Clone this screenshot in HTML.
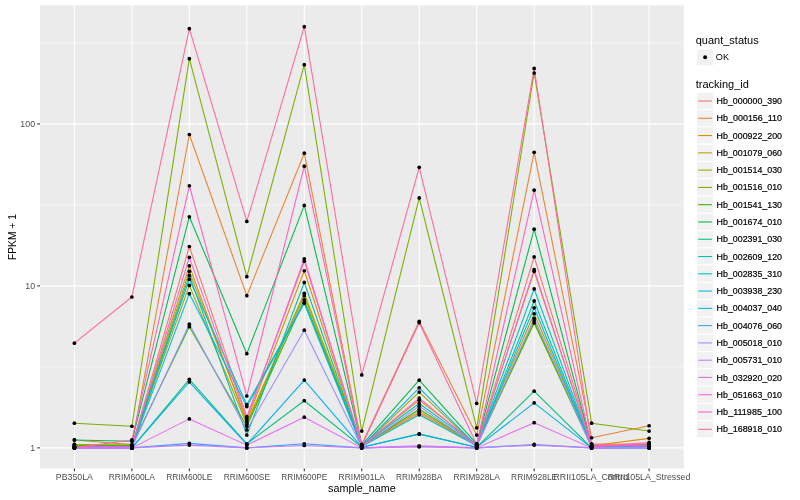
<!DOCTYPE html>
<html><head><meta charset="utf-8"><title>plot</title>
<style>html,body{margin:0;padding:0;background:#fff}svg{display:block}text{font-family:"Liberation Sans",sans-serif}</style></head><body>
<svg width="800" height="500" viewBox="0 0 800 500">
<rect width="800" height="500" fill="#fff"/>
<rect x="40.0" y="5.3" width="643.76" height="463.30" fill="#EBEBEB"/>
<line x1="40.0" x2="683.76" y1="366.88" y2="366.88" stroke="#fff" stroke-width="0.53"/>
<line x1="40.0" x2="683.76" y1="204.88" y2="204.88" stroke="#fff" stroke-width="0.53"/>
<line x1="40.0" x2="683.76" y1="42.88" y2="42.88" stroke="#fff" stroke-width="0.53"/>
<line x1="40.0" x2="683.76" y1="447.88" y2="447.88" stroke="#fff" stroke-width="1.07"/>
<line x1="40.0" x2="683.76" y1="285.88" y2="285.88" stroke="#fff" stroke-width="1.07"/>
<line x1="40.0" x2="683.76" y1="123.88" y2="123.88" stroke="#fff" stroke-width="1.07"/>
<line x1="74.40" x2="74.40" y1="5.3" y2="468.6" stroke="#fff" stroke-width="1.07"/>
<line x1="131.87" x2="131.87" y1="5.3" y2="468.6" stroke="#fff" stroke-width="1.07"/>
<line x1="189.34" x2="189.34" y1="5.3" y2="468.6" stroke="#fff" stroke-width="1.07"/>
<line x1="246.81" x2="246.81" y1="5.3" y2="468.6" stroke="#fff" stroke-width="1.07"/>
<line x1="304.28" x2="304.28" y1="5.3" y2="468.6" stroke="#fff" stroke-width="1.07"/>
<line x1="361.75" x2="361.75" y1="5.3" y2="468.6" stroke="#fff" stroke-width="1.07"/>
<line x1="419.22" x2="419.22" y1="5.3" y2="468.6" stroke="#fff" stroke-width="1.07"/>
<line x1="476.69" x2="476.69" y1="5.3" y2="468.6" stroke="#fff" stroke-width="1.07"/>
<line x1="534.16" x2="534.16" y1="5.3" y2="468.6" stroke="#fff" stroke-width="1.07"/>
<line x1="591.63" x2="591.63" y1="5.3" y2="468.6" stroke="#fff" stroke-width="1.07"/>
<line x1="649.10" x2="649.10" y1="5.3" y2="468.6" stroke="#fff" stroke-width="1.07"/>
<g fill="none" stroke-width="1.07" stroke-linejoin="round">
<polyline points="74.40,446.49 131.87,446.49 189.34,246.51 246.81,416.59 304.28,261.21 361.75,445.80 419.22,413.08 476.69,445.12 534.16,256.89 591.63,443.78 649.10,444.45" stroke="#F8766D"/>
<polyline points="74.40,439.91 131.87,444.65 189.34,134.49 246.81,295.68 304.28,153.22 361.75,444.45 419.22,321.24 476.69,435.05 534.16,152.37 591.63,437.74 649.10,425.73" stroke="#EA8331"/>
<polyline points="74.40,444.45 131.87,445.80 189.34,271.32 246.81,420.77 304.28,270.75 361.75,445.80 419.22,400.18 476.69,444.45 534.16,271.32 591.63,445.80 649.10,438.35" stroke="#D89000"/>
<polyline points="74.40,445.12 131.87,445.12 189.34,265.82 246.81,422.72 304.28,293.29 361.75,445.12 419.22,411.38 476.69,445.12 534.16,313.74 591.63,446.49 649.10,445.80" stroke="#C09B00"/>
<polyline points="74.40,444.45 131.87,445.80 189.34,285.39 246.81,424.21 304.28,295.68 361.75,446.49 419.22,392.09 476.69,445.80 534.16,320.66 591.63,446.49 649.10,445.12" stroke="#A3A500"/>
<polyline points="74.40,423.21 131.87,426.25 189.34,58.69 246.81,276.66 304.28,64.67 361.75,431.06 419.22,197.94 476.69,427.82 534.16,73.03 591.63,423.21 649.10,431.06" stroke="#7CAE00"/>
<polyline points="74.40,445.80 131.87,445.12 189.34,326.67 246.81,426.25 304.28,299.84 361.75,445.80 419.22,409.32 476.69,445.12 534.16,323.00 591.63,446.49 649.10,444.45" stroke="#39B600"/>
<polyline points="74.40,439.91 131.87,441.17 189.34,216.79 246.81,353.68 304.28,205.38 361.75,445.12 419.22,380.22 476.69,443.78 534.16,229.14 591.63,445.80 649.10,445.12" stroke="#00BB4E"/>
<polyline points="74.40,447.88 131.87,447.88 189.34,379.31 246.81,443.78 304.28,400.71 361.75,447.18 419.22,433.89 476.69,447.18 534.16,391.14 591.63,447.88 649.10,447.18" stroke="#00BF7D"/>
<polyline points="74.40,446.49 131.87,446.49 189.34,275.44 246.81,435.05 304.28,282.45 361.75,446.49 419.22,414.81 476.69,445.80 534.16,300.97 591.63,446.49 649.10,446.49" stroke="#00C1A3"/>
<polyline points="74.40,447.18 131.87,446.49 189.34,279.17 246.81,404.60 304.28,302.46 361.75,445.80 419.22,403.47 476.69,445.12 534.16,288.97 591.63,446.49 649.10,445.80" stroke="#00BFC4"/>
<polyline points="74.40,447.18 131.87,447.18 189.34,293.68 246.81,406.53 304.28,303.36 361.75,446.49 419.22,387.77 476.69,445.80 534.16,307.73 591.63,447.18 649.10,446.49" stroke="#00BAE0"/>
<polyline points="74.40,447.88 131.87,447.88 189.34,382.02 246.81,444.45 304.28,380.12 361.75,447.18 419.22,434.18 476.69,447.18 534.16,402.94 591.63,447.88 649.10,447.88" stroke="#00B0F6"/>
<polyline points="74.40,447.88 131.87,447.88 189.34,443.38 246.81,447.88 304.28,443.78 361.75,447.88 419.22,446.49 476.69,447.88 534.16,444.45 591.63,447.88 649.10,447.88" stroke="#35A2FF"/>
<polyline points="74.40,447.18 131.87,447.18 189.34,324.20 246.81,429.96 304.28,330.15 361.75,447.18 419.22,406.14 476.69,446.49 534.16,318.39 591.63,447.18 649.10,447.18" stroke="#9590FF"/>
<polyline points="74.40,447.88 131.87,447.88 189.34,445.12 246.81,447.88 304.28,445.46 361.75,447.88 419.22,446.83 476.69,447.88 534.16,445.12 591.63,447.88 649.10,447.88" stroke="#C77CFF"/>
<polyline points="74.40,447.88 131.87,447.88 189.34,418.89 246.81,445.12 304.28,417.18 361.75,447.88 419.22,445.80 476.69,447.88 534.16,422.72 591.63,447.88 649.10,447.18" stroke="#E76BF3"/>
<polyline points="74.40,447.18 131.87,446.49 189.34,257.35 246.81,418.42 304.28,258.77 361.75,446.49 419.22,398.07 476.69,445.80 534.16,269.62 591.63,446.49 649.10,443.78" stroke="#FA62DB"/>
<polyline points="74.40,447.88 131.87,439.91 189.34,185.76 246.81,396.02 304.28,166.20 361.75,445.80 419.22,322.65 476.69,444.45 534.16,190.13 591.63,446.49 649.10,442.47" stroke="#FF62BC"/>
<polyline points="74.40,343.16 131.87,296.98 189.34,28.67 246.81,221.41 304.28,26.70 361.75,374.94 419.22,167.36 476.69,403.47 534.16,68.41 591.63,444.45 649.10,445.80" stroke="#FF6A98"/>
</g>
<g fill="#000">
<circle cx="74.40" cy="446.49" r="1.85"/>
<circle cx="131.87" cy="446.49" r="1.85"/>
<circle cx="189.34" cy="246.51" r="1.85"/>
<circle cx="246.81" cy="416.59" r="1.85"/>
<circle cx="304.28" cy="261.21" r="1.85"/>
<circle cx="361.75" cy="445.80" r="1.85"/>
<circle cx="419.22" cy="413.08" r="1.85"/>
<circle cx="476.69" cy="445.12" r="1.85"/>
<circle cx="534.16" cy="256.89" r="1.85"/>
<circle cx="591.63" cy="443.78" r="1.85"/>
<circle cx="649.10" cy="444.45" r="1.85"/>
<circle cx="74.40" cy="439.91" r="1.85"/>
<circle cx="131.87" cy="444.65" r="1.85"/>
<circle cx="189.34" cy="134.49" r="1.85"/>
<circle cx="246.81" cy="295.68" r="1.85"/>
<circle cx="304.28" cy="153.22" r="1.85"/>
<circle cx="361.75" cy="444.45" r="1.85"/>
<circle cx="419.22" cy="321.24" r="1.85"/>
<circle cx="476.69" cy="435.05" r="1.85"/>
<circle cx="534.16" cy="152.37" r="1.85"/>
<circle cx="591.63" cy="437.74" r="1.85"/>
<circle cx="649.10" cy="425.73" r="1.85"/>
<circle cx="74.40" cy="444.45" r="1.85"/>
<circle cx="131.87" cy="445.80" r="1.85"/>
<circle cx="189.34" cy="271.32" r="1.85"/>
<circle cx="246.81" cy="420.77" r="1.85"/>
<circle cx="304.28" cy="270.75" r="1.85"/>
<circle cx="361.75" cy="445.80" r="1.85"/>
<circle cx="419.22" cy="400.18" r="1.85"/>
<circle cx="476.69" cy="444.45" r="1.85"/>
<circle cx="534.16" cy="271.32" r="1.85"/>
<circle cx="591.63" cy="445.80" r="1.85"/>
<circle cx="649.10" cy="438.35" r="1.85"/>
<circle cx="74.40" cy="445.12" r="1.85"/>
<circle cx="131.87" cy="445.12" r="1.85"/>
<circle cx="189.34" cy="265.82" r="1.85"/>
<circle cx="246.81" cy="422.72" r="1.85"/>
<circle cx="304.28" cy="293.29" r="1.85"/>
<circle cx="361.75" cy="445.12" r="1.85"/>
<circle cx="419.22" cy="411.38" r="1.85"/>
<circle cx="476.69" cy="445.12" r="1.85"/>
<circle cx="534.16" cy="313.74" r="1.85"/>
<circle cx="591.63" cy="446.49" r="1.85"/>
<circle cx="649.10" cy="445.80" r="1.85"/>
<circle cx="74.40" cy="444.45" r="1.85"/>
<circle cx="131.87" cy="445.80" r="1.85"/>
<circle cx="189.34" cy="285.39" r="1.85"/>
<circle cx="246.81" cy="424.21" r="1.85"/>
<circle cx="304.28" cy="295.68" r="1.85"/>
<circle cx="361.75" cy="446.49" r="1.85"/>
<circle cx="419.22" cy="392.09" r="1.85"/>
<circle cx="476.69" cy="445.80" r="1.85"/>
<circle cx="534.16" cy="320.66" r="1.85"/>
<circle cx="591.63" cy="446.49" r="1.85"/>
<circle cx="649.10" cy="445.12" r="1.85"/>
<circle cx="74.40" cy="423.21" r="1.85"/>
<circle cx="131.87" cy="426.25" r="1.85"/>
<circle cx="189.34" cy="58.69" r="1.85"/>
<circle cx="246.81" cy="276.66" r="1.85"/>
<circle cx="304.28" cy="64.67" r="1.85"/>
<circle cx="361.75" cy="431.06" r="1.85"/>
<circle cx="419.22" cy="197.94" r="1.85"/>
<circle cx="476.69" cy="427.82" r="1.85"/>
<circle cx="534.16" cy="73.03" r="1.85"/>
<circle cx="591.63" cy="423.21" r="1.85"/>
<circle cx="649.10" cy="431.06" r="1.85"/>
<circle cx="74.40" cy="445.80" r="1.85"/>
<circle cx="131.87" cy="445.12" r="1.85"/>
<circle cx="189.34" cy="326.67" r="1.85"/>
<circle cx="246.81" cy="426.25" r="1.85"/>
<circle cx="304.28" cy="299.84" r="1.85"/>
<circle cx="361.75" cy="445.80" r="1.85"/>
<circle cx="419.22" cy="409.32" r="1.85"/>
<circle cx="476.69" cy="445.12" r="1.85"/>
<circle cx="534.16" cy="323.00" r="1.85"/>
<circle cx="591.63" cy="446.49" r="1.85"/>
<circle cx="649.10" cy="444.45" r="1.85"/>
<circle cx="74.40" cy="439.91" r="1.85"/>
<circle cx="131.87" cy="441.17" r="1.85"/>
<circle cx="189.34" cy="216.79" r="1.85"/>
<circle cx="246.81" cy="353.68" r="1.85"/>
<circle cx="304.28" cy="205.38" r="1.85"/>
<circle cx="361.75" cy="445.12" r="1.85"/>
<circle cx="419.22" cy="380.22" r="1.85"/>
<circle cx="476.69" cy="443.78" r="1.85"/>
<circle cx="534.16" cy="229.14" r="1.85"/>
<circle cx="591.63" cy="445.80" r="1.85"/>
<circle cx="649.10" cy="445.12" r="1.85"/>
<circle cx="74.40" cy="447.88" r="1.85"/>
<circle cx="131.87" cy="447.88" r="1.85"/>
<circle cx="189.34" cy="379.31" r="1.85"/>
<circle cx="246.81" cy="443.78" r="1.85"/>
<circle cx="304.28" cy="400.71" r="1.85"/>
<circle cx="361.75" cy="447.18" r="1.85"/>
<circle cx="419.22" cy="433.89" r="1.85"/>
<circle cx="476.69" cy="447.18" r="1.85"/>
<circle cx="534.16" cy="391.14" r="1.85"/>
<circle cx="591.63" cy="447.88" r="1.85"/>
<circle cx="649.10" cy="447.18" r="1.85"/>
<circle cx="74.40" cy="446.49" r="1.85"/>
<circle cx="131.87" cy="446.49" r="1.85"/>
<circle cx="189.34" cy="275.44" r="1.85"/>
<circle cx="246.81" cy="435.05" r="1.85"/>
<circle cx="304.28" cy="282.45" r="1.85"/>
<circle cx="361.75" cy="446.49" r="1.85"/>
<circle cx="419.22" cy="414.81" r="1.85"/>
<circle cx="476.69" cy="445.80" r="1.85"/>
<circle cx="534.16" cy="300.97" r="1.85"/>
<circle cx="591.63" cy="446.49" r="1.85"/>
<circle cx="649.10" cy="446.49" r="1.85"/>
<circle cx="74.40" cy="447.18" r="1.85"/>
<circle cx="131.87" cy="446.49" r="1.85"/>
<circle cx="189.34" cy="279.17" r="1.85"/>
<circle cx="246.81" cy="404.60" r="1.85"/>
<circle cx="304.28" cy="302.46" r="1.85"/>
<circle cx="361.75" cy="445.80" r="1.85"/>
<circle cx="419.22" cy="403.47" r="1.85"/>
<circle cx="476.69" cy="445.12" r="1.85"/>
<circle cx="534.16" cy="288.97" r="1.85"/>
<circle cx="591.63" cy="446.49" r="1.85"/>
<circle cx="649.10" cy="445.80" r="1.85"/>
<circle cx="74.40" cy="447.18" r="1.85"/>
<circle cx="131.87" cy="447.18" r="1.85"/>
<circle cx="189.34" cy="293.68" r="1.85"/>
<circle cx="246.81" cy="406.53" r="1.85"/>
<circle cx="304.28" cy="303.36" r="1.85"/>
<circle cx="361.75" cy="446.49" r="1.85"/>
<circle cx="419.22" cy="387.77" r="1.85"/>
<circle cx="476.69" cy="445.80" r="1.85"/>
<circle cx="534.16" cy="307.73" r="1.85"/>
<circle cx="591.63" cy="447.18" r="1.85"/>
<circle cx="649.10" cy="446.49" r="1.85"/>
<circle cx="74.40" cy="447.88" r="1.85"/>
<circle cx="131.87" cy="447.88" r="1.85"/>
<circle cx="189.34" cy="382.02" r="1.85"/>
<circle cx="246.81" cy="444.45" r="1.85"/>
<circle cx="304.28" cy="380.12" r="1.85"/>
<circle cx="361.75" cy="447.18" r="1.85"/>
<circle cx="419.22" cy="434.18" r="1.85"/>
<circle cx="476.69" cy="447.18" r="1.85"/>
<circle cx="534.16" cy="402.94" r="1.85"/>
<circle cx="591.63" cy="447.88" r="1.85"/>
<circle cx="649.10" cy="447.88" r="1.85"/>
<circle cx="74.40" cy="447.88" r="1.85"/>
<circle cx="131.87" cy="447.88" r="1.85"/>
<circle cx="189.34" cy="443.38" r="1.85"/>
<circle cx="246.81" cy="447.88" r="1.85"/>
<circle cx="304.28" cy="443.78" r="1.85"/>
<circle cx="361.75" cy="447.88" r="1.85"/>
<circle cx="419.22" cy="446.49" r="1.85"/>
<circle cx="476.69" cy="447.88" r="1.85"/>
<circle cx="534.16" cy="444.45" r="1.85"/>
<circle cx="591.63" cy="447.88" r="1.85"/>
<circle cx="649.10" cy="447.88" r="1.85"/>
<circle cx="74.40" cy="447.18" r="1.85"/>
<circle cx="131.87" cy="447.18" r="1.85"/>
<circle cx="189.34" cy="324.20" r="1.85"/>
<circle cx="246.81" cy="429.96" r="1.85"/>
<circle cx="304.28" cy="330.15" r="1.85"/>
<circle cx="361.75" cy="447.18" r="1.85"/>
<circle cx="419.22" cy="406.14" r="1.85"/>
<circle cx="476.69" cy="446.49" r="1.85"/>
<circle cx="534.16" cy="318.39" r="1.85"/>
<circle cx="591.63" cy="447.18" r="1.85"/>
<circle cx="649.10" cy="447.18" r="1.85"/>
<circle cx="74.40" cy="447.88" r="1.85"/>
<circle cx="131.87" cy="447.88" r="1.85"/>
<circle cx="189.34" cy="445.12" r="1.85"/>
<circle cx="246.81" cy="447.88" r="1.85"/>
<circle cx="304.28" cy="445.46" r="1.85"/>
<circle cx="361.75" cy="447.88" r="1.85"/>
<circle cx="419.22" cy="446.83" r="1.85"/>
<circle cx="476.69" cy="447.88" r="1.85"/>
<circle cx="534.16" cy="445.12" r="1.85"/>
<circle cx="591.63" cy="447.88" r="1.85"/>
<circle cx="649.10" cy="447.88" r="1.85"/>
<circle cx="74.40" cy="447.88" r="1.85"/>
<circle cx="131.87" cy="447.88" r="1.85"/>
<circle cx="189.34" cy="418.89" r="1.85"/>
<circle cx="246.81" cy="445.12" r="1.85"/>
<circle cx="304.28" cy="417.18" r="1.85"/>
<circle cx="361.75" cy="447.88" r="1.85"/>
<circle cx="419.22" cy="445.80" r="1.85"/>
<circle cx="476.69" cy="447.88" r="1.85"/>
<circle cx="534.16" cy="422.72" r="1.85"/>
<circle cx="591.63" cy="447.88" r="1.85"/>
<circle cx="649.10" cy="447.18" r="1.85"/>
<circle cx="74.40" cy="447.18" r="1.85"/>
<circle cx="131.87" cy="446.49" r="1.85"/>
<circle cx="189.34" cy="257.35" r="1.85"/>
<circle cx="246.81" cy="418.42" r="1.85"/>
<circle cx="304.28" cy="258.77" r="1.85"/>
<circle cx="361.75" cy="446.49" r="1.85"/>
<circle cx="419.22" cy="398.07" r="1.85"/>
<circle cx="476.69" cy="445.80" r="1.85"/>
<circle cx="534.16" cy="269.62" r="1.85"/>
<circle cx="591.63" cy="446.49" r="1.85"/>
<circle cx="649.10" cy="443.78" r="1.85"/>
<circle cx="74.40" cy="447.88" r="1.85"/>
<circle cx="131.87" cy="439.91" r="1.85"/>
<circle cx="189.34" cy="185.76" r="1.85"/>
<circle cx="246.81" cy="396.02" r="1.85"/>
<circle cx="304.28" cy="166.20" r="1.85"/>
<circle cx="361.75" cy="445.80" r="1.85"/>
<circle cx="419.22" cy="322.65" r="1.85"/>
<circle cx="476.69" cy="444.45" r="1.85"/>
<circle cx="534.16" cy="190.13" r="1.85"/>
<circle cx="591.63" cy="446.49" r="1.85"/>
<circle cx="649.10" cy="442.47" r="1.85"/>
<circle cx="74.40" cy="343.16" r="1.85"/>
<circle cx="131.87" cy="296.98" r="1.85"/>
<circle cx="189.34" cy="28.67" r="1.85"/>
<circle cx="246.81" cy="221.41" r="1.85"/>
<circle cx="304.28" cy="26.70" r="1.85"/>
<circle cx="361.75" cy="374.94" r="1.85"/>
<circle cx="419.22" cy="167.36" r="1.85"/>
<circle cx="476.69" cy="403.47" r="1.85"/>
<circle cx="534.16" cy="68.41" r="1.85"/>
<circle cx="591.63" cy="444.45" r="1.85"/>
<circle cx="649.10" cy="445.80" r="1.85"/>
</g>
<g stroke="#333" stroke-width="1.07">
<line x1="37.25" x2="40.0" y1="447.88" y2="447.88"/>
<line x1="37.25" x2="40.0" y1="285.88" y2="285.88"/>
<line x1="37.25" x2="40.0" y1="123.88" y2="123.88"/>
<line x1="74.40" x2="74.40" y1="468.6" y2="471.35"/>
<line x1="131.87" x2="131.87" y1="468.6" y2="471.35"/>
<line x1="189.34" x2="189.34" y1="468.6" y2="471.35"/>
<line x1="246.81" x2="246.81" y1="468.6" y2="471.35"/>
<line x1="304.28" x2="304.28" y1="468.6" y2="471.35"/>
<line x1="361.75" x2="361.75" y1="468.6" y2="471.35"/>
<line x1="419.22" x2="419.22" y1="468.6" y2="471.35"/>
<line x1="476.69" x2="476.69" y1="468.6" y2="471.35"/>
<line x1="534.16" x2="534.16" y1="468.6" y2="471.35"/>
<line x1="591.63" x2="591.63" y1="468.6" y2="471.35"/>
<line x1="649.10" x2="649.10" y1="468.6" y2="471.35"/>
</g>
<g font-size="8.8" fill="#4D4D4D">
<text x="35.05" y="451.03" text-anchor="end">1</text>
<text x="35.05" y="289.03" text-anchor="end">10</text>
<text x="35.05" y="127.03" text-anchor="end">100</text>
<text x="74.40" y="480.2" text-anchor="middle">PB350LA</text>
<text x="131.87" y="480.2" text-anchor="middle" textLength="46.3" lengthAdjust="spacingAndGlyphs">RRIM600LA</text>
<text x="189.34" y="480.2" text-anchor="middle" textLength="46.3" lengthAdjust="spacingAndGlyphs">RRIM600LE</text>
<text x="246.81" y="480.2" text-anchor="middle" textLength="46.3" lengthAdjust="spacingAndGlyphs">RRIM600SE</text>
<text x="304.28" y="480.2" text-anchor="middle" textLength="46.3" lengthAdjust="spacingAndGlyphs">RRIM600PE</text>
<text x="361.75" y="480.2" text-anchor="middle" textLength="46.3" lengthAdjust="spacingAndGlyphs">RRIM901LA</text>
<text x="419.22" y="480.2" text-anchor="middle" textLength="46.3" lengthAdjust="spacingAndGlyphs">RRIM928BA</text>
<text x="476.69" y="480.2" text-anchor="middle" textLength="46.3" lengthAdjust="spacingAndGlyphs">RRIM928LA</text>
<text x="534.16" y="480.2" text-anchor="middle" textLength="46.3" lengthAdjust="spacingAndGlyphs">RRIM928LE</text>
<text x="591.63" y="480.2" text-anchor="middle">RRII105LA_Control</text>
<text x="649.10" y="480.2" text-anchor="middle">RRII105LA_Stressed</text>
</g>
<text x="361.9" y="491.6" font-size="11" text-anchor="middle" textLength="67.6" lengthAdjust="spacingAndGlyphs" fill="#000">sample_name</text>
<text transform="translate(16.1,237.1) rotate(-90)" font-size="11" text-anchor="middle" textLength="46" lengthAdjust="spacingAndGlyphs" fill="#000">FPKM + 1</text>
<text x="695.7" y="44" font-size="11" fill="#000">quant_status</text>
<rect x="696.5" y="48.7" width="17.28" height="17.28" fill="#F2F2F2" stroke="#fff" stroke-width="1.07"/>
<circle cx="705.1" cy="57.3" r="1.95" fill="#000"/>
<text x="715.8" y="59.9" font-size="8.8" textLength="13.2" lengthAdjust="spacingAndGlyphs" fill="#000">OK</text>
<text x="695.7" y="88.1" font-size="11" fill="#000">tracking_id</text>
<rect x="696.5" y="92.36" width="17.28" height="17.28" fill="#F2F2F2" stroke="#fff" stroke-width="1.07"/>
<line x1="698.2" x2="712" y1="101.00" y2="101.00" stroke="#F8766D" stroke-width="1.07"/>
<text x="716.6" y="104.05" font-size="8.8" fill="#000" stroke="#000" stroke-width="0.2" textLength="65.4" lengthAdjust="spacingAndGlyphs">Hb_000000_390</text>
<rect x="696.5" y="109.64" width="17.28" height="17.28" fill="#F2F2F2" stroke="#fff" stroke-width="1.07"/>
<line x1="698.2" x2="712" y1="118.28" y2="118.28" stroke="#EA8331" stroke-width="1.07"/>
<text x="716.6" y="121.33" font-size="8.8" fill="#000" stroke="#000" stroke-width="0.2" textLength="65.4" lengthAdjust="spacingAndGlyphs">Hb_000156_110</text>
<rect x="696.5" y="126.92" width="17.28" height="17.28" fill="#F2F2F2" stroke="#fff" stroke-width="1.07"/>
<line x1="698.2" x2="712" y1="135.56" y2="135.56" stroke="#D89000" stroke-width="1.07"/>
<text x="716.6" y="138.61" font-size="8.8" fill="#000" stroke="#000" stroke-width="0.2" textLength="65.4" lengthAdjust="spacingAndGlyphs">Hb_000922_200</text>
<rect x="696.5" y="144.20" width="17.28" height="17.28" fill="#F2F2F2" stroke="#fff" stroke-width="1.07"/>
<line x1="698.2" x2="712" y1="152.84" y2="152.84" stroke="#C09B00" stroke-width="1.07"/>
<text x="716.6" y="155.89" font-size="8.8" fill="#000" stroke="#000" stroke-width="0.2" textLength="65.4" lengthAdjust="spacingAndGlyphs">Hb_001079_060</text>
<rect x="696.5" y="161.48" width="17.28" height="17.28" fill="#F2F2F2" stroke="#fff" stroke-width="1.07"/>
<line x1="698.2" x2="712" y1="170.12" y2="170.12" stroke="#A3A500" stroke-width="1.07"/>
<text x="716.6" y="173.17" font-size="8.8" fill="#000" stroke="#000" stroke-width="0.2" textLength="65.4" lengthAdjust="spacingAndGlyphs">Hb_001514_030</text>
<rect x="696.5" y="178.76" width="17.28" height="17.28" fill="#F2F2F2" stroke="#fff" stroke-width="1.07"/>
<line x1="698.2" x2="712" y1="187.40" y2="187.40" stroke="#7CAE00" stroke-width="1.07"/>
<text x="716.6" y="190.45" font-size="8.8" fill="#000" stroke="#000" stroke-width="0.2" textLength="65.4" lengthAdjust="spacingAndGlyphs">Hb_001516_010</text>
<rect x="696.5" y="196.04" width="17.28" height="17.28" fill="#F2F2F2" stroke="#fff" stroke-width="1.07"/>
<line x1="698.2" x2="712" y1="204.68" y2="204.68" stroke="#39B600" stroke-width="1.07"/>
<text x="716.6" y="207.73" font-size="8.8" fill="#000" stroke="#000" stroke-width="0.2" textLength="65.4" lengthAdjust="spacingAndGlyphs">Hb_001541_130</text>
<rect x="696.5" y="213.32" width="17.28" height="17.28" fill="#F2F2F2" stroke="#fff" stroke-width="1.07"/>
<line x1="698.2" x2="712" y1="221.96" y2="221.96" stroke="#00BB4E" stroke-width="1.07"/>
<text x="716.6" y="225.01" font-size="8.8" fill="#000" stroke="#000" stroke-width="0.2" textLength="65.4" lengthAdjust="spacingAndGlyphs">Hb_001674_010</text>
<rect x="696.5" y="230.60" width="17.28" height="17.28" fill="#F2F2F2" stroke="#fff" stroke-width="1.07"/>
<line x1="698.2" x2="712" y1="239.24" y2="239.24" stroke="#00BF7D" stroke-width="1.07"/>
<text x="716.6" y="242.29" font-size="8.8" fill="#000" stroke="#000" stroke-width="0.2" textLength="65.4" lengthAdjust="spacingAndGlyphs">Hb_002391_030</text>
<rect x="696.5" y="247.88" width="17.28" height="17.28" fill="#F2F2F2" stroke="#fff" stroke-width="1.07"/>
<line x1="698.2" x2="712" y1="256.52" y2="256.52" stroke="#00C1A3" stroke-width="1.07"/>
<text x="716.6" y="259.57" font-size="8.8" fill="#000" stroke="#000" stroke-width="0.2" textLength="65.4" lengthAdjust="spacingAndGlyphs">Hb_002609_120</text>
<rect x="696.5" y="265.16" width="17.28" height="17.28" fill="#F2F2F2" stroke="#fff" stroke-width="1.07"/>
<line x1="698.2" x2="712" y1="273.80" y2="273.80" stroke="#00BFC4" stroke-width="1.07"/>
<text x="716.6" y="276.85" font-size="8.8" fill="#000" stroke="#000" stroke-width="0.2" textLength="65.4" lengthAdjust="spacingAndGlyphs">Hb_002835_310</text>
<rect x="696.5" y="282.44" width="17.28" height="17.28" fill="#F2F2F2" stroke="#fff" stroke-width="1.07"/>
<line x1="698.2" x2="712" y1="291.08" y2="291.08" stroke="#00BAE0" stroke-width="1.07"/>
<text x="716.6" y="294.13" font-size="8.8" fill="#000" stroke="#000" stroke-width="0.2" textLength="65.4" lengthAdjust="spacingAndGlyphs">Hb_003938_230</text>
<rect x="696.5" y="299.72" width="17.28" height="17.28" fill="#F2F2F2" stroke="#fff" stroke-width="1.07"/>
<line x1="698.2" x2="712" y1="308.36" y2="308.36" stroke="#00B0F6" stroke-width="1.07"/>
<text x="716.6" y="311.41" font-size="8.8" fill="#000" stroke="#000" stroke-width="0.2" textLength="65.4" lengthAdjust="spacingAndGlyphs">Hb_004037_040</text>
<rect x="696.5" y="317.00" width="17.28" height="17.28" fill="#F2F2F2" stroke="#fff" stroke-width="1.07"/>
<line x1="698.2" x2="712" y1="325.64" y2="325.64" stroke="#35A2FF" stroke-width="1.07"/>
<text x="716.6" y="328.69" font-size="8.8" fill="#000" stroke="#000" stroke-width="0.2" textLength="65.4" lengthAdjust="spacingAndGlyphs">Hb_004076_060</text>
<rect x="696.5" y="334.28" width="17.28" height="17.28" fill="#F2F2F2" stroke="#fff" stroke-width="1.07"/>
<line x1="698.2" x2="712" y1="342.92" y2="342.92" stroke="#9590FF" stroke-width="1.07"/>
<text x="716.6" y="345.97" font-size="8.8" fill="#000" stroke="#000" stroke-width="0.2" textLength="65.4" lengthAdjust="spacingAndGlyphs">Hb_005018_010</text>
<rect x="696.5" y="351.56" width="17.28" height="17.28" fill="#F2F2F2" stroke="#fff" stroke-width="1.07"/>
<line x1="698.2" x2="712" y1="360.20" y2="360.20" stroke="#C77CFF" stroke-width="1.07"/>
<text x="716.6" y="363.25" font-size="8.8" fill="#000" stroke="#000" stroke-width="0.2" textLength="65.4" lengthAdjust="spacingAndGlyphs">Hb_005731_010</text>
<rect x="696.5" y="368.84" width="17.28" height="17.28" fill="#F2F2F2" stroke="#fff" stroke-width="1.07"/>
<line x1="698.2" x2="712" y1="377.48" y2="377.48" stroke="#E76BF3" stroke-width="1.07"/>
<text x="716.6" y="380.53" font-size="8.8" fill="#000" stroke="#000" stroke-width="0.2" textLength="65.4" lengthAdjust="spacingAndGlyphs">Hb_032920_020</text>
<rect x="696.5" y="386.12" width="17.28" height="17.28" fill="#F2F2F2" stroke="#fff" stroke-width="1.07"/>
<line x1="698.2" x2="712" y1="394.76" y2="394.76" stroke="#FA62DB" stroke-width="1.07"/>
<text x="716.6" y="397.81" font-size="8.8" fill="#000" stroke="#000" stroke-width="0.2" textLength="65.4" lengthAdjust="spacingAndGlyphs">Hb_051663_010</text>
<rect x="696.5" y="403.40" width="17.28" height="17.28" fill="#F2F2F2" stroke="#fff" stroke-width="1.07"/>
<line x1="698.2" x2="712" y1="412.04" y2="412.04" stroke="#FF62BC" stroke-width="1.07"/>
<text x="716.6" y="415.09" font-size="8.8" fill="#000" stroke="#000" stroke-width="0.2" textLength="65.4" lengthAdjust="spacingAndGlyphs">Hb_111985_100</text>
<rect x="696.5" y="420.68" width="17.28" height="17.28" fill="#F2F2F2" stroke="#fff" stroke-width="1.07"/>
<line x1="698.2" x2="712" y1="429.32" y2="429.32" stroke="#FF6A98" stroke-width="1.07"/>
<text x="716.6" y="432.37" font-size="8.8" fill="#000" stroke="#000" stroke-width="0.2" textLength="65.4" lengthAdjust="spacingAndGlyphs">Hb_168918_010</text>
</svg></body></html>
